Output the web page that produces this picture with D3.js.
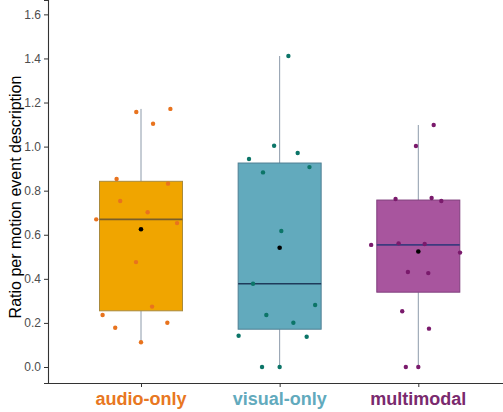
<!DOCTYPE html>
<html>
<head>
<meta charset="utf-8">
<script src="https://cdn.jsdelivr.net/npm/d3@7"></script>
<style>
  body { margin: 0; background: #fff; }
  svg { display: block; }
</style>
</head>
<body>
<svg id="chart" width="503" height="412"></svg>
<script>
// ---- data ----
const categories = ["audio-only", "visual-only", "multimodal"];
const audioValues  = [1.157, 1.171, 1.104, 0.853, 0.832, 0.753, 0.670, 0.702, 0.653, 0.476, 0.274, 0.236, 0.178, 0.201, 0.112];
const audioJitter  = [-0.034, 0.212, 0.087, -0.176, 0.195, -0.150, -0.323, 0.048, 0.260, -0.036, 0.080, -0.277, -0.186, 0.190, 0.0];
const visualValues = [1.411, 1.004, 0.971, 0.944, 0.907, 0.883, 0.617, 0.378, 0.281, 0.236, 0.201, 0.142, 0.137, 0.0, 0.0];
const visualJitter = [0.063, -0.040, 0.130, -0.221, 0.215, -0.120, 0.012, -0.192, 0.256, -0.096, 0.099, -0.296, 0.195, -0.127, 0.0];
const multiValues  = [1.098, 1.003, 0.762, 0.767, 0.753, 0.554, 0.561, 0.558, 0.519, 0.431, 0.426, 0.253, 0.174, 0.0, 0.0];
const multiJitter  = [0.111, -0.017, -0.164, 0.096, 0.166, -0.340, -0.142, 0.046, 0.301, -0.075, 0.072, -0.116, 0.077, -0.090, 0.0];
const yTicks = [0.0, 0.2, 0.4, 0.6, 0.8, 1.0, 1.2, 1.4, 1.6];
const yTitle = "Ratio per motion event description";

const styles = {
  "audio-only":  { fill: "#F0A500", stroke: "#A98A3C", median: "#7A5E2A", point: "#E8731E", label: "#E87722" },
  "visual-only": { fill: "#62AABD", stroke: "#4F7F93", median: "#1E3A5A", point: "#0C7568", label: "#62AABD" },
  "multimodal":  { fill: "#A8559E", stroke: "#7F3E7C", median: "#3D3A7E", point: "#7A1A6C", label: "#7A2A6E" }
};

const groups = [
  { cat: categories[0], values: audioValues,  jitter: audioJitter },
  { cat: categories[1], values: visualValues, jitter: visualJitter },
  { cat: categories[2], values: multiValues,  jitter: multiJitter }
];

// ---- layout ----
const svg = d3.select("#chart");
const mLeft = 48, mBottom = 383, mTop = 0, mRight = 503;

const x = d3.scalePoint().domain(categories).range([141, 418.3]);
const step = x.step();
const y = d3.scaleLinear().domain([-0.0726, 1.6652]).range([mBottom, mTop]);
const boxW = 83;

// axes
const yAxis = d3.axisLeft(y).tickValues(yTicks).tickFormat(d3.format(".1f")).tickSize(4).tickPadding(3);
const gy = svg.append("g").attr("transform", `translate(${mLeft},0)`).call(yAxis);
gy.select(".domain").attr("stroke", "#333").attr("stroke-width", 1.1);
gy.selectAll(".tick line").attr("stroke", "#333");
gy.selectAll(".tick text").attr("fill", "#4D4D4D").style("font-family", "Liberation Sans, Arial, sans-serif").style("font-size", "12px");

const xAxis = d3.axisBottom(x).tickSize(4).tickFormat("");
const gx = svg.append("g").attr("transform", `translate(0,${mBottom})`).call(xAxis);
gx.select(".domain").attr("d", `M${mLeft},0.5H${mRight}`).attr("stroke", "#333").attr("stroke-width", 1.1);
gx.selectAll(".tick line").attr("stroke", "#333");

// category labels
svg.selectAll("text.cat").data(categories).enter().append("text")
  .attr("class", "cat")
  .attr("x", d => x(d))
  .attr("y", 405)
  .attr("text-anchor", "middle")
  .style("font-family", "Liberation Sans, Arial, sans-serif")
  .style("font-size", "18px")
  .style("font-weight", "bold")
  .attr("fill", d => styles[d].label)
  .text(d => d);

// y title
svg.append("text")
  .attr("transform", `translate(21,197) rotate(-90)`)
  .attr("text-anchor", "middle")
  .style("font-family", "Liberation Sans, Arial, sans-serif")
  .style("font-size", "16px")
  .attr("fill", "#000")
  .text(yTitle);

// boxes
groups.forEach(g => {
  const s = styles[g.cat];
  const sorted = g.values.slice().sort(d3.ascending);
  const q1 = d3.quantile(sorted, 0.25);
  const med = d3.quantile(sorted, 0.5);
  const q3 = d3.quantile(sorted, 0.75);
  const iqr = q3 - q1;
  const lo = d3.min(sorted.filter(v => v >= q1 - 1.5 * iqr));
  const hi = d3.max(sorted.filter(v => v <= q3 + 1.5 * iqr));
  const mean = d3.mean(g.values);
  const cx = x(g.cat);
  const grp = svg.append("g");

  grp.append("line").attr("x1", cx).attr("x2", cx).attr("y1", y(hi)).attr("y2", y(q3))
    .attr("stroke", "#8C9AAA").attr("stroke-width", 1);
  grp.append("line").attr("x1", cx).attr("x2", cx).attr("y1", y(q1)).attr("y2", y(lo))
    .attr("stroke", "#8C9AAA").attr("stroke-width", 1);
  grp.append("rect").attr("x", cx - boxW / 2).attr("width", boxW)
    .attr("y", y(q3)).attr("height", y(q1) - y(q3))
    .attr("fill", s.fill).attr("stroke", s.stroke).attr("stroke-width", 1);
  grp.append("line").attr("x1", cx - boxW / 2).attr("x2", cx + boxW / 2)
    .attr("y1", y(med)).attr("y2", y(med))
    .attr("stroke", s.median).attr("stroke-width", 1.6);

  grp.selectAll("circle.pt").data(g.values).enter().append("circle")
    .attr("class", "pt")
    .attr("cx", (d, i) => cx + g.jitter[i] * step)
    .attr("cy", d => y(d))
    .attr("r", 2.2)
    .attr("fill", s.point);

  grp.append("circle").attr("cx", cx).attr("cy", y(mean)).attr("r", 2.3).attr("fill", "#000");
});
</script>
</body>
</html>
